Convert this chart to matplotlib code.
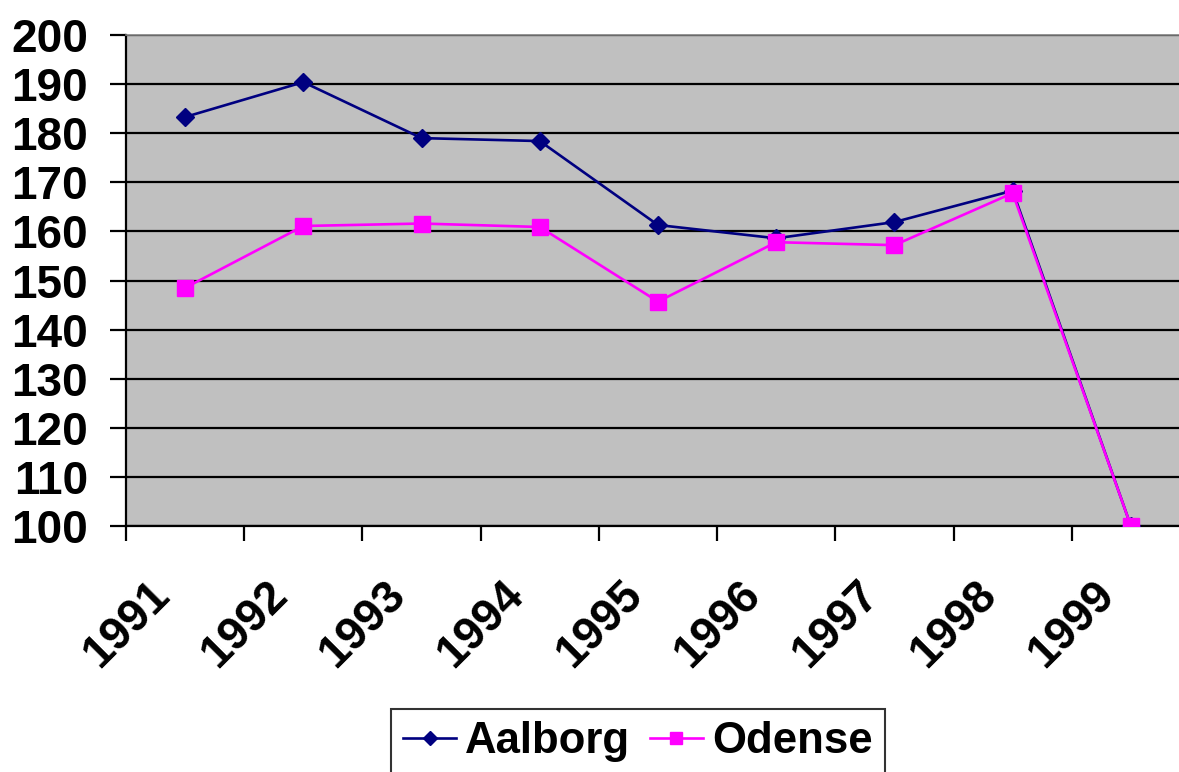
import matplotlib
matplotlib.use("Agg")
import matplotlib.pyplot as plt
import numpy as np

years = ["1991", "1992", "1993", "1994", "1995", "1996", "1997", "1998", "1999"]
aalborg = [183.3, 190.4, 179.0, 178.4, 161.3, 158.6, 161.9, 168.3, 100.0]
odense = [148.5, 161.1, 161.6, 160.9, 145.7, 157.8, 157.2, 167.8, 100.0]
y_ticks = [100, 110, 120, 130, 140, 150, 160, 170, 180, 190, 200]

plt.rcParams['font.family'] = ['Liberation Sans', 'DejaVu Sans']
W, H = 1179, 772
FS = 33
fig = plt.figure(figsize=(W / 100, H / 100), dpi=100)
ax = fig.add_axes([126 / W, (H - 526) / H, (1190 - 126) / W, (526 - 35) / H])
ax.set_facecolor("#C0C0C0")

x = np.arange(len(years)) + 0.5
ax.plot(x, aalborg, color="#000080", lw=1.9, marker="D", ms=9, label="Aalborg", zorder=3)
ax.plot(x, odense, color="#FF00FF", lw=1.9, marker="s", ms=11, label="Odense", zorder=4)

ax.set_xlim(0, len(years))
ax.set_ylim(100, 200)
ax.set_yticks(y_ticks)
ax.set_yticklabels([str(v) for v in y_ticks], fontsize=FS, fontweight="bold")
ax.yaxis.grid(True, color="black", lw=1.6)
ax.set_axisbelow(True)

# category boundaries carry the tick marks; labels sit just left of each category centre
ax.set_xticks(np.arange(len(years) + 1))
ax.set_xticklabels([])
label_shift = 0.06
ax.set_xticks(x - label_shift, minor=True)
ax.set_xticklabels(years, minor=True, rotation=45, ha="right", va="top",
                   fontsize=FS, fontweight="bold")
ax.tick_params(axis="x", which="minor", length=0, pad=34)
ax.tick_params(axis="x", which="major", length=11, width=1.6, direction="out", color="black")
ax.tick_params(axis="y", length=11.5, width=1.6, direction="out", pad=16, color="black")

for s in ["left", "bottom"]:
    ax.spines[s].set_color("black")
    ax.spines[s].set_linewidth(1.6)
for s in ["top", "right"]:
    ax.spines[s].set_color("#808080")
    ax.spines[s].set_linewidth(1.2)

leg = fig.legend(loc="upper left", bbox_to_anchor=(391 / W, 1 - 709 / H),
                 ncol=2, prop={"size": 31.5, "weight": "bold"}, frameon=True,
                 fancybox=False, edgecolor="black", borderaxespad=0,
                 handlelength=1.2, handletextpad=0.22, columnspacing=0.45,
                 borderpad=0.28, markerscale=0.8)
leg.get_frame().set_linewidth(1.5)

fig.savefig("out.png", dpi=100)
